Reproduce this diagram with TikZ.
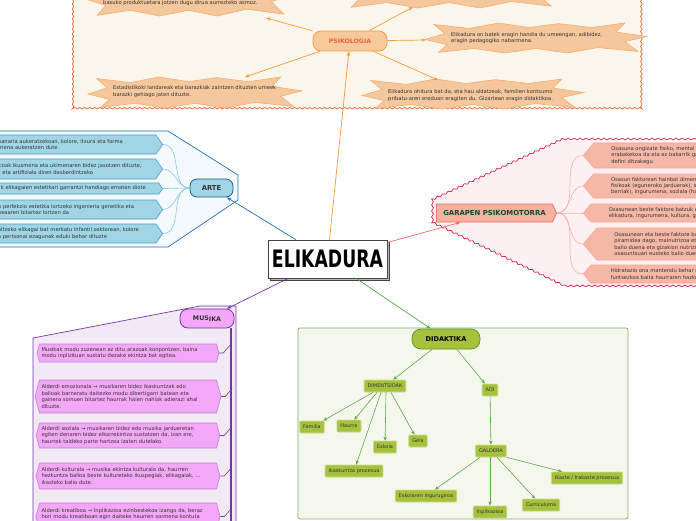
\documentclass[tikz,border=0pt]{standalone}
\usepackage{fontspec}
\usepackage{graphicx}
\setmainfont{DejaVu Sans}
\usetikzlibrary{arrows.meta,shapes.symbols,decorations.pathmorphing,calc}
\definecolor{psyfill}{HTML}{FBF6EC}
\definecolor{psyborder}{HTML}{E8653A}
\definecolor{starfill}{HTML}{F5C79D}
\definecolor{starborder}{HTML}{F5AE6E}
\definecolor{psynode}{HTML}{F8C99A}
\definecolor{psynodeborder}{HTML}{F09A40}
\definecolor{psytext}{HTML}{E8653A}
\definecolor{orangeline}{HTML}{F59A38}
\definecolor{artepanel}{HTML}{F4F9FD}
\definecolor{arteborder}{HTML}{1F6FBF}
\definecolor{artefill}{HTML}{9FD5E4}
\definecolor{arteitemborder}{HTML}{4A9EC6}
\definecolor{artenodeborder}{HTML}{1E5A96}
\definecolor{artecurve}{HTML}{8CC6DE}
\definecolor{garpanel}{HTML}{FDF0F2}
\definecolor{garborder}{HTML}{D0284A}
\definecolor{garfill}{HTML}{F6B8A6}
\definecolor{garnodefill}{HTML}{F5B2A0}
\definecolor{garnodeborder}{HTML}{F07062}
\definecolor{garitemborder}{HTML}{F6A696}
\definecolor{gartext}{HTML}{174A2E}
\definecolor{garcurve}{HTML}{F8B0A6}
\definecolor{garline}{HTML}{F46A6A}
\definecolor{muspanel}{HTML}{F1EAF5}
\definecolor{musborder}{HTML}{7535A8}
\definecolor{musfill}{HTML}{F2A8F6}
\definecolor{musitemborder}{HTML}{C07ED2}
\definecolor{didpanel}{HTML}{F5F7EC}
\definecolor{didborder}{HTML}{78B862}
\definecolor{didfill}{HTML}{A6C23C}
\definecolor{didnodeborder}{HTML}{5E9A2A}
\definecolor{didchildborder}{HTML}{C8DC90}
\definecolor{didarrow}{HTML}{5AAA46}
\definecolor{txt}{HTML}{333333}
\definecolor{eliborder}{HTML}{444444}
\newcommand\itfnt{\fontsize{5.2}{6.4}\selectfont}
\newcommand\chfnt{\fontsize{5}{6}\selectfont}
\newcommand\bangpath{(0,0.55) -- (0.09,0.35) -- (0.04,0.05) -- (0.2,0.18) -- (0.33,0.0) -- (0.47,0.15) -- (0.6,0.02) -- (0.75,0.15) -- (0.9,0.0) -- (0.86,0.3) -- (1,0.45) -- (0.9,0.62) -- (0.96,0.95) -- (0.78,0.82) -- (0.64,1) -- (0.5,0.85) -- (0.36,1) -- (0.22,0.85) -- (0.06,0.98) -- (0.1,0.72) -- cycle}
\begin{document}
\begin{tikzpicture}[x=1pt,y=-1pt,
  itxt/.style={font=\itfnt, text=txt, align=left, inner sep=0pt},
  starbox/.style={fill=starfill, draw=starborder, line width=0.6pt},
  oarrow/.style={draw=orangeline, line width=0.7pt, -{Stealth[length=4.5pt,width=3.5pt]}},
  artebox/.style={signal, signal to=east, signal pointer angle=110, fill=artefill, draw=arteitemborder, line width=0.6pt, font=\itfnt, text=txt, align=left, text width=155pt, inner xsep=3pt, inner ysep=1.5pt, anchor=east},
  garbox/.style={signal, signal to=west, signal pointer angle=100, fill=garfill, draw=garitemborder, line width=0.6pt, font=\itfnt, text=txt, align=left, minimum width=140pt, inner xsep=4pt, inner ysep=1.5pt, anchor=west},
  musbox/.style={signal, signal to=west and east, signal pointer angle=150, fill=musfill, draw=musitemborder, line width=0.6pt, font=\itfnt, text=txt, align=left, text width=173pt, inner xsep=2pt, inner ysep=1.5pt},
  didchild/.style={fill=didfill, draw=didchildborder, line width=0.8pt, font=\chfnt, text=txt, minimum height=12pt, inner xsep=3.5pt, inner ysep=0pt, rounded corners=1pt},
  garrow/.style={draw=didarrow, line width=0.6pt, -{Stealth[length=4pt,width=3.5pt]}}
]
\useasboundingbox (0,0) rectangle (696,520);
\clip (0,0) rectangle (696,520);
\fill[white] (0,0) rectangle (696,520);

% ---------- PSIKOLOGIA panel ----------
\path[fill=psyfill, draw=psyborder, line width=0.7pt, decorate, decoration={snake,amplitude=0.8pt,segment length=5pt}] (73,-10) -- (73,108) -- (643,108) -- (643,-10);
\begin{scope}[shift={(85,-22)}, xscale=207, yscale=38]
  \path[starbox] \bangpath;
\end{scope}
\begin{scope}[shift={(338,-28)}, xscale=222, yscale=36]
  \path[starbox] \bangpath;
\end{scope}
\begin{scope}[shift={(425,23)}, xscale=222, yscale=30]
  \path[starbox] \bangpath;
\end{scope}
\begin{scope}[shift={(88,77)}, xscale=214, yscale=31]
  \path[starbox] \bangpath;
\end{scope}
\begin{scope}[shift={(362,79)}, xscale=222, yscale=30]
  \path[starbox] \bangpath;
\end{scope}
\node[itxt, anchor=west] (st1) at (103,3.5) {basuko produktuetara jotzen dugu dirua aurrezteko asmoz.};
\node[itxt, anchor=west] (st3) at (451,38) {Elikadura on batek eragin handia du umeengan, adibidez,\\eragin pedagogiko nabarmena.};
\node[itxt, anchor=west] (st4) at (113,91.5) {Estadistikoki landareak eta barazkiak zaintzen dituzten umeek\\barazki gehiago jaten dituzte.};
\node[itxt, anchor=west] (st5) at (388,95.5) {Elikadura ohitura bat da, eta hau aldatzeak, familien kontsumo\\pribatu-aren ereduan eragiten du. Gizartean eragin didaktikoa.};
\coordinate (s1) at (266,18);
\coordinate (s2) at (413,7);
\coordinate (s3) at (426,40);
\coordinate (s4) at (245,77);
\coordinate (s5) at (438,80);
\node[fill=psynode, draw=psynodeborder, line width=0.8pt, rounded corners=8pt, minimum width=74pt, minimum height=20pt, inner sep=0pt, text=psytext, font=\fontsize{6.2}{7}\selectfont\bfseries] (psy) at (350,41) {PSIKOLOGIA};
\foreach \s in {s1,s2,s3,s4,s5} \draw[oarrow] (psy) -- (\s);

% ---------- ARTE panel ----------
\path[fill=artepanel, draw=arteborder, line width=0.7pt] (-2,131) -- (168,131) -- (238,175) -- (238,200) -- (168,247) -- (-2,247);
\node[artebox, minimum height=19pt] (a1) at (163,144.5) {nanaria aukeratzekoan, kolore, itxura eta forma\\rriena aukeratzen dute};
\node[artebox, minimum height=20pt] (a2) at (163,169) {icoak ikusmena eta ukimenaren bidez jasotzen dituzte,\\k eta artifiziala diren desberdintzeko};
\node[artebox, minimum height=11pt] (a3) at (163,188.5) {k elikagaien estetikari garrantzi handiago ematen diote};
\node[artebox, minimum height=19pt] (a4) at (163,209.5) {n perfekzio estetika lortzeko ingenieria genetika eta\\beaaren bitartez lortzen da};
\node[artebox, minimum height=19pt] (a5) at (163,233.5) {altzeko elikagai bat merkatu infantil sektorean, kolore\\a pertsonai ezagunak eduki behar dituzte};
\node[fill=artefill, draw=artenodeborder, line width=0.8pt, rounded corners=7pt, minimum width=43pt, minimum height=18pt, inner sep=0pt, text=txt, font=\fontsize{6.8}{7}\selectfont\bfseries] (arte) at (211.5,188) {ARTE};
\foreach \a in {a1,a2,a3,a4,a5} \draw[draw=artecurve, line width=0.6pt] (arte.west) to[out=180,in=0] (\a.east);

% ---------- GARAPEN panel ----------
\path[fill=garpanel, draw=garborder, line width=0.7pt, decorate, decoration={snake,amplitude=0.9pt,segment length=6pt}] (705,139) -- (565,139) -- (434,200) -- (434,225) -- (567,289) -- (705,289);
\node[garbox, minimum height=25pt] (g1) at (583,155.5) {Osasuna ongizate fisiko, mental eta\\erabakekoa da eta ez bakarrik gaixo\\defini ditzakegu};
\node[garbox, minimum height=24pt] (g2) at (583,186) {Osasun faktorean hainbat dimentsio\\fisikoak (eguneroko jarduerak), inb\\berriak), ingurumena, soziala (harre};
\node[garbox, minimum height=18pt] (g3) at (583,213) {Osasunean beste faktore batzuk era\\elikadura, ingurumena, kultura, gene};
\node[garbox, minimum height=32pt] (g4) at (583,244) {Osasunean eta beste faktore batzu\\piramidea dago, malnutrizoa eta h\\balio duena eta gizakion nutrizio e\\osasuntsuari eusteko balio duena.};
\node[garbox, minimum height=18pt] (g5) at (583,274) {Hidratazio ona mantendu behar da,\\funtsezkoa baita haurraren hazkunt};
\node[signal, signal to=east, signal pointer angle=130, fill=garnodefill, draw=garnodeborder, line width=0.8pt, minimum width=120pt, minimum height=18pt, inner xsep=2pt, inner ysep=0pt, text=gartext, font=\fontsize{6.9}{7}\selectfont\bfseries, anchor=east] (gar) at (557,213) {GARAPEN PSIKOMOTORRA};
\foreach \g in {g1,g2,g3,g4,g5} \draw[draw=garcurve, line width=0.6pt] (gar.east) to[out=0,in=180] (\g.west);

% ---------- MUSIKA panel ----------
\path[fill=muspanel, draw=musborder, line width=0.7pt] (33,530) -- (33,338) -- (200,306) -- (236,306) -- (236,530);
\node[fill=musfill, draw=musborder, line width=0.8pt, rounded corners=8pt, minimum width=54pt, minimum height=19pt, inner sep=0pt, text=txt, font=\fontsize{6.3}{7}\selectfont\bfseries] (mus) at (207,318.5) {MUS\raisebox{-1.2pt}{IKA}};
\coordinate (mbot) at (231,530);
\draw[draw=musborder, line width=1.2pt] (mus.south -| mbot) -- (mbot);
\node[musbox, minimum height=18pt] (m1) at (128,353) {Musikak modu zuzenean ez ditu arazoak konpontzen, baina\\modu inplizituan sustatu dezake ekintza bat egitea.};
\node[musbox, minimum height=33pt] (m2) at (128,396.5) {Alderdi emozionala → musikaren bidez ikaskuntzak edo\\balioak barneratu daitezke modu dibertigarri batean eta\\gainera soinuen bitartez haurrak haien nahiak adierazi ahal\\dituzte.};
\node[musbox, minimum height=25pt] (m3) at (128,435.5) {Alderdi soziala → musikaren bidez edo musika jardueretan\\egiten denaren bidez elkarrekintza sustatzen da, izan ere,\\haurrek taldeko parte hartzea izaten dutelako.};
\node[musbox, minimum height=26pt] (m4) at (128,476) {Alderdi kulturala →  musika ekintza kulturala da, haurren\\hezkuntza balioa beste kulturetako ikuspegiak, elikagaiak, ...\\ikasteko balio dute.};
\node[musbox, minimum height=27pt] (m5) at (128,516.5) {Alderdi kreatiboa → Inplikazioa ezinbestekoa izango da, beraz\\hori modu kreatiboan egin daiteke haurren sormena kontuta\\~};
\foreach \m in {m1,m2,m3,m4,m5} \draw[draw=musborder, line width=0.6pt] (\m.east) -- ++(4,0) -- ++(7,-8);

% ---------- DIDAKTIKA panel ----------
\path[fill=didpanel, draw=didborder, line width=0.8pt, rounded corners=2pt] (298,328) rectangle (628,519);
\node[fill=didfill, draw=didnodeborder, line width=0.8pt, rounded corners=9pt, minimum width=68pt, minimum height=20pt, inner sep=0pt, text=black, font=\fontsize{6.6}{7}\selectfont\bfseries] (did) at (446,339) {DIDAKTIKA};
\node[didchild] (dim) at (385,386) {DIMENTSIOAK};
\node[didchild] (aoi) at (490,390) {AOI};
\node[didchild] (fam) at (312,427) {Familia};
\node[didchild] (hau) at (349,426) {Haurra};
\node[didchild] (esk) at (385,447) {Eskola};
\node[didchild] (gel) at (418,441) {Gela};
\node[didchild] (ika) at (354,471) {Ikaskuntza prozesua};
\node[didchild] (gal) at (491,451) {GALDERA};
\node[didchild] (iri) at (587,478) {Ikaste / Irakaste prozesua};
\node[didchild] (eir) at (426,496) {Eskolaren ingurugiroa};
\node[didchild] (inp) at (490,512) {Inplikazioa};
\node[didchild] (cur) at (541,505) {Curriculuma};
\draw[garrow] ([xshift=-14pt]did.south) -- (dim);
\draw[garrow] ([xshift=11pt]did.south) -- (aoi);
\draw[garrow] ([xshift=-12pt]dim.south) -- (fam);
\draw[garrow] ([xshift=-8pt]dim.south) -- (hau);
\draw[garrow] ([xshift=-4pt]dim.south) -- (ika);
\draw[garrow] ([xshift=1pt]dim.south) -- (esk);
\draw[garrow] ([xshift=6pt]dim.south) -- (gel);
\draw[garrow] (aoi) -- (gal);
\draw[garrow] ([xshift=-11pt]gal.south) -- (eir);
\draw[garrow] ([xshift=-1pt]gal.south) -- (inp);
\draw[garrow] ([xshift=6pt]gal.south) -- (cur);
\draw[garrow] (gal.south east) -- (iri);

% ---------- ELIKADURA ----------
\node[draw=eliborder, fill=gray!55, line width=0.6pt, minimum width=119pt, minimum height=38pt, inner sep=0pt] (elishadow) at (329.5,261) {};
\node[draw=eliborder, fill=white, line width=0.8pt, minimum width=119pt, minimum height=38pt, inner sep=0pt] (eli) at (327.5,259) {\scalebox{0.72}[1]{\fontsize{24}{24}\selectfont\bfseries ELIKADURA}};
\draw[oarrow] (eli) -- (psy);
\draw[draw=arteborder, line width=0.7pt, -{Stealth[length=4.5pt,width=3.5pt]}] (eli) -- (arte);
\draw[draw=garline, line width=0.7pt, -{Stealth[length=4.5pt,width=3.5pt]}] (eli) -- (gar);
\draw[draw=musborder, line width=0.7pt, -{Stealth[length=4.5pt,width=3.5pt]}] (eli) -- (mus);
\draw[draw=didarrow, line width=0.7pt, -{Stealth[length=4.5pt,width=3.5pt]}] (eli) -- (did);
\end{tikzpicture}
\end{document}
